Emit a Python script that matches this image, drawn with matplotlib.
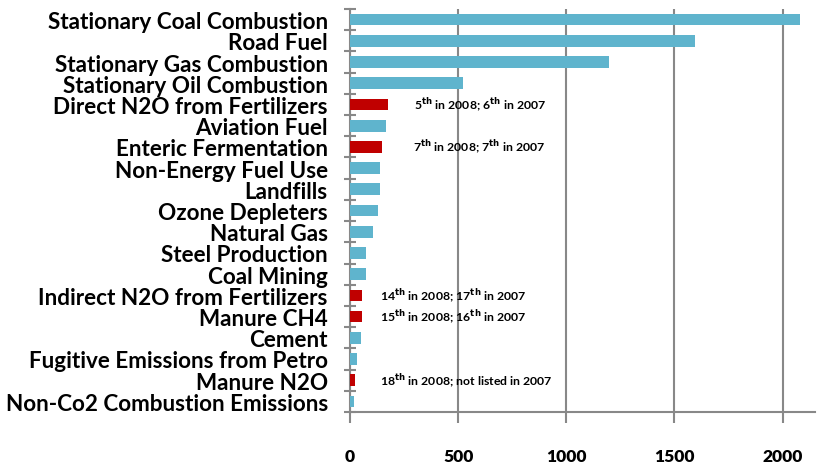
import matplotlib
matplotlib.use("Agg")
import matplotlib.pyplot as plt
import numpy as np

# Emission sources, largest first
sources = [
    "Stationary Coal Combustion", "Road Fuel", "Stationary Gas Combustion",
    "Stationary Oil Combustion", "Direct N2O from Fertilizers", "Aviation Fuel",
    "Enteric Fermentation", "Non-Energy Fuel Use", "Landfills", "Ozone Depleters",
    "Natural Gas", "Steel Production", "Coal Mining", "Indirect N2O from Fertilizers",
    "Manure CH4", "Cement", "Fugitive Emissions from Petro", "Manure N2O",
    "Non-Co2 Combustion Emissions",
]
emissions = [2082, 1597, 1196, 522, 175, 165, 148, 140, 138, 128,
             107, 75, 75, 54, 54, 50, 33, 23, 20]
agricultural = ["Direct N2O from Fertilizers", "Enteric Fermentation",
                "Indirect N2O from Fertilizers", "Manure CH4", "Manure N2O"]

# Rank notes for the agricultural sources
notes = {
    "Direct N2O from Fertilizers": (r"5$^{\mathbf{th}}$ in 2008; 6$^{\mathbf{th}}$ in 2007", 295),
    "Enteric Fermentation": (r"7$^{\mathbf{th}}$ in 2008; 7$^{\mathbf{th}}$ in 2007", 290),
    "Indirect N2O from Fertilizers": (r"14$^{\mathbf{th}}$ in 2008; 17$^{\mathbf{th}}$ in 2007", 140),
    "Manure CH4": (r"15$^{\mathbf{th}}$ in 2008; 16$^{\mathbf{th}}$ in 2007", 140),
    "Manure N2O": (r"18$^{\mathbf{th}}$ in 2008; not listed in 2007", 140),
}

blue = "#5fb4cd"
red = "#c00000"
colors = [red if s in agricultural else blue for s in sources]

fig = plt.figure(figsize=(8.19, 4.64), dpi=100)
ax = fig.add_axes([0.4274, 0.1099, 0.5678, 0.8685])

y = np.arange(len(sources))
ax.barh(y, emissions, height=0.55, color=colors, zorder=3)

for s, (txt, xpos) in notes.items():
    i = sources.index(s)
    ax.text(xpos, i, txt, va="center", ha="left", fontsize=8.8,
            fontweight="bold", family="Lato", zorder=4)

ax.set_ylim(len(sources) - 0.5, -0.5)
ax.set_xlim(0, 2150)
ax.set_xticks([0, 500, 1000, 1500, 2000])
ax.set_xticklabels(["0", "500", "1000", "1500", "2000"],
                   fontsize=12.5, fontweight="heavy", family="Lato")
ax.set_yticks(y)
ax.set_yticklabels(sources, fontsize=16.2, fontweight="bold", family="Lato")
ax.set_yticks(np.arange(len(sources) + 1) - 0.5, minor=True)

ax.grid(axis="x", color="#888888", linewidth=1.5, zorder=0)
for side in ["top", "right"]:
    ax.spines[side].set_visible(False)
ax.spines["left"].set_color("#888888")
ax.spines["bottom"].set_color("#888888")
ax.spines["left"].set_linewidth(1.5)
ax.spines["bottom"].set_linewidth(1.5)

ax.tick_params(axis="y", which="major", length=0, pad=16)
ax.tick_params(axis="y", which="minor", length=8, direction="inout",
               color="#888888", width=1.5)
ax.tick_params(axis="x", length=8, direction="out", color="#888888",
               width=1.5, pad=18)

fig.savefig("out.png", dpi=100)
